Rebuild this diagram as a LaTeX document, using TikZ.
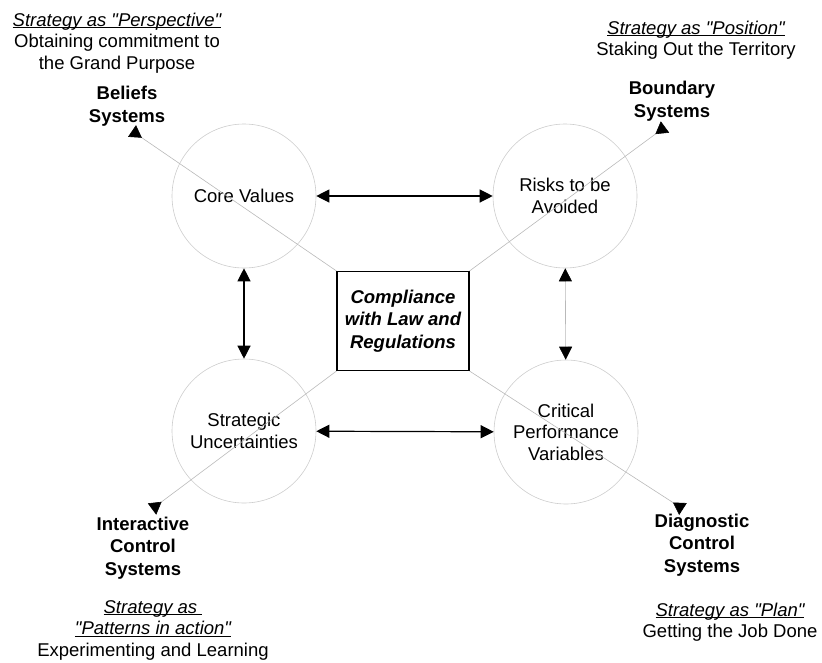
\documentclass[tikz,border=0pt]{standalone}
\usepackage{fontspec}
\setmainfont{Liberation Sans}
\usetikzlibrary{arrows.meta}

\newcommand{\stratline}[1]{\setbox0\hbox{\itshape #1}\rlap{\rule[-2pt]{\wd0}{0.9pt}}\box0}
\newcommand{\qq}{\textquotedbl}
\definecolor{rimgray}{RGB}{205,205,205}
\definecolor{linkgray}{RGB}{185,185,185}

\begin{document}
\begin{tikzpicture}[
		x=1pt, y=-1pt,
		every node/.style={align=center, inner sep=0pt, font=\fontsize{18.5}{21.5}\selectfont},
		ring/.style={circle, draw=rimgray, line width=0.6pt, minimum size=144pt},
		lever/.style={font=\fontsize{18.5}{22.5}\selectfont\bfseries},
		link/.style={draw=linkgray, line width=0.6pt, -{Triangle[reversed, black, length=12pt, width=14pt]}},
		pair/.style={line width=1.2pt, {Triangle[black, length=13pt, width=13pt]}-{Triangle[black, length=13pt, width=13pt]}}
	]
  \useasboundingbox (0,0) rectangle (822,662);
  % the four circles round the box
  \node (core) [ring] at (244,196) {Core Values};
  \node (risks) [ring] at (565,196) {Risks to be\\Avoided};
  \node (uncert) [ring] at (244,431) {Strategic\\Uncertainties};
  \node (perf) [ring] at (566,432) {Critical\\Performance\\Variables};
  \node (law) [draw, line width=1.2pt, minimum width=132pt, minimum height=99pt,
    font=\fontsize{18.5}{22.5}\selectfont\bfseries\itshape] at (403,321) {Compliance\\with Law and\\Regulations};
  % levers of control
  \node (beliefs) [lever] at (127,106) {Beliefs\\Systems};
  \node (boundary) [lever] at (672,101) {Boundary\\Systems};
  \node (interactive) [lever] at (143,548) {Interactive\\Control\\Systems};
  \node (diagnostic) [lever] at (702,545) {Diagnostic\\Control\\Systems};
  % strategy captions
  \node (persp) at (117,43) {\stratline{Strategy as \qq Perspective\qq}\\Obtaining commitment to\\the Grand Purpose};
  \node (posit) at (696,40) {\stratline{Strategy as \qq Position\qq}\\Staking Out the Territory};
  \node (patt) at (153,630) {\stratline{Strategy as\ }\\\stratline{\qq Patterns in action\qq}\\Experimenting and Learning};
  \node (plan) at (730,622) {\stratline{Strategy as \qq Plan\qq}\\Getting the Job Done};
  \coordinate (beliefs_tip) at (132,131);
  \coordinate (boundary_tip) at (665,127);
  \coordinate (interactive_tip) at (152,509);
  \coordinate (diagnostic_tip) at (683,509);
  \draw [link] (law.north west) -- (beliefs_tip);
  \draw [link] (law.north east) -- (boundary_tip);
  \draw [link] (law.south west) -- (interactive_tip);
  \draw [link] (law.south east) -- (diagnostic_tip);
  \draw [pair] (core) -- (risks);
  \draw [pair] (uncert) -- (perf);
  \draw [pair] (core) -- (uncert);
  \draw [pair, draw=linkgray, line width=0.6pt] (risks) -- (perf);
\end{tikzpicture}
\end{document}
